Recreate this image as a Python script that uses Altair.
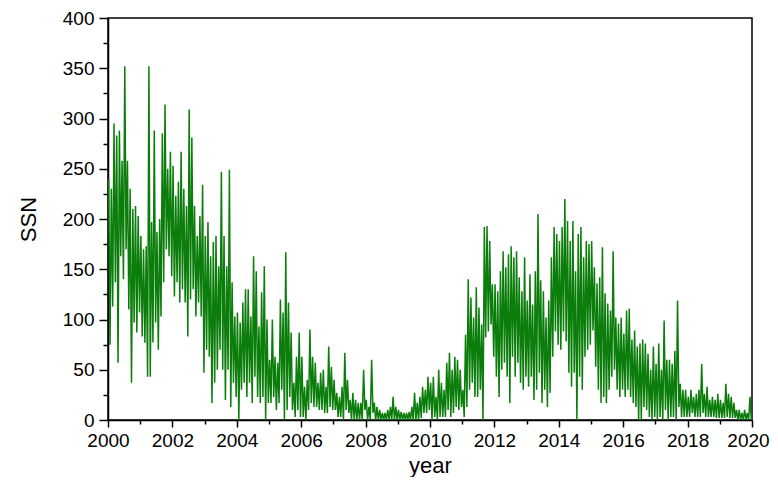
import altair as alt
import pandas as pd

# Monthly highest daily SSN (Jan..Dec per year)
YEARS = list(range(2000, 2020))
HI = [
    240, 230, 295, 283, 288, 258, 352, 258, 230, 210, 213, 203,  # 2000
    183, 170, 173, 352, 197, 288, 187, 200, 285, 314, 250, 267,  # 2001
    253, 223, 237, 267, 230, 213, 309, 281, 213, 183, 203, 234,  # 2002
    183, 197, 163, 177, 183, 153, 247, 183, 153, 249, 137, 103,  # 2003
    107, 97, 117, 130, 130, 103, 163, 148, 93, 127, 153, 100,    # 2004
    60, 100, 63, 57, 120, 107, 167, 117, 87, 37, 63, 87,         # 2005
    63, 33, 40, 90, 63, 57, 37, 47, 50, 33, 73, 53,              # 2006
    40, 27, 23, 33, 67, 40, 20, 27, 20, 17, 17, 50,              # 2007
    20, 13, 60, 17, 13, 10, 7, 7, 10, 13, 23, 13,                # 2008
    10, 8, 7, 7, 8, 13, 27, 17, 23, 33, 30, 43,                  # 2009
    37, 43, 23, 50, 37, 30, 57, 67, 50, 63, 60, 50,              # 2010
    30, 85, 140, 122, 102, 132, 112, 95, 192, 193, 178, 135,     # 2011
    135, 128, 148, 168, 152, 165, 173, 162, 168, 142, 128, 162,  # 2012
    119, 145, 115, 148, 205, 139, 128, 102, 119, 162, 192, 185,  # 2013
    178, 192, 220, 198, 178, 198, 148, 185, 192, 162, 178, 175,  # 2014
    178, 152, 136, 142, 172, 126, 116, 109, 168, 102, 96, 102,   # 2015
    86, 109, 111, 80, 89, 73, 76, 80, 76, 66, 50, 73,            # 2016
    56, 76, 50, 99, 60, 60, 56, 69, 119, 36, 30, 30,             # 2017
    23, 30, 23, 26, 30, 56, 26, 33, 20, 23, 20, 26,              # 2018
    20, 17, 36, 26, 23, 17, 10, 10, 7, 10, 7, 23,                # 2019
]
# Monthly lowest daily SSN
LO = [
    75, 113, 137, 57, 163, 140, 170, 110, 37, 97, 87, 107,       # 2000
    83, 77, 43, 43, 77, 97, 70, 103, 137, 170, 163, 143,         # 2001
    123, 137, 117, 130, 117, 83, 120, 130, 103, 117, 103, 47,    # 2002
    70, 63, 17, 37, 50, 70, 50, 20, 50, 13, 37, 23,              # 2003
    0, 30, 37, 23, 37, 17, 43, 23, 17, 23, 0, 17,                # 2004
    17, 23, 10, 17, 30, 0, 10, 23, 10, 3, 10, 3,                 # 2005
    3, 0, 10, 17, 13, 13, 10, 10, 7, 7, 13, 10,                  # 2006
    10, 3, 3, 0, 10, 7, 0, 0, 0, 0, 0, 10,                       # 2007
    0, 0, 7, 0, 0, 0, 0, 0, 0, 0, 0, 0,                          # 2008
    0, 0, 0, 0, 0, 0, 0, 0, 2, 7, 7, 10,                         # 2009
    0, 3, 0, 3, 3, 3, 10, 3, 7, 13, 10, 13,                      # 2010
    3, 13, 30, 37, 23, 23, 30, 0, 82, 88, 95, 63,                # 2011
    43, 23, 50, 57, 43, 17, 63, 43, 57, 37, 30, 43,              # 2012
    33, 43, 20, 30, 47, 17, 30, 13, 27, 63, 88, 75,              # 2013
    70, 88, 78, 47, 33, 47, 0, 43, 30, 63, 70, 75,               # 2014
    89, 53, 30, 17, 23, 17, 30, 43, 50, 30, 23, 30,              # 2015
    23, 30, 23, 17, 13, 0, 0, 13, 10, 3, 0, 3,                   # 2016
    0, 3, 0, 10, 0, 3, 3, 0, 13, 3, 3, 3,                        # 2017
    3, 7, 3, 3, 3, 7, 3, 3, 3, 3, 2, 2,                          # 2018
    2, 2, 3, 2, 2, 2, 0, 0, 0, 0, 0, 0,                          # 2019
]
X_TICKS = list(range(2000, 2021, 2))
X_MINOR = list(range(2001, 2020, 2))
Y_TICKS = list(range(0, 401, 50))
Y_MINOR = list(range(25, 400, 50))

rows = []
for i, (h, l) in enumerate(zip(HI, LO)):
    yr = YEARS[i // 12]
    m = i % 12
    rows.append({"t": yr + (m + 0.25) / 12, "v": h})
    rows.append({"t": yr + (m + 0.75) / 12, "v": l})
df = pd.DataFrame(rows)

FONT = "Liberation Sans"
xscale = alt.Scale(domain=[2000, 2020], nice=False, zero=False)
yscale = alt.Scale(domain=[0, 400], nice=False)

line = alt.Chart(df).mark_line(color="#0b7d0b", strokeWidth=1.5, clip=True).encode(
    x=alt.X("t:Q", scale=xscale, axis=alt.Axis(
        values=X_TICKS, format="d", title="year", grid=False,
        tickSize=7, tickWidth=1.5, tickColor="black",
        domainColor="black", domainWidth=1.5,
        labelFont=FONT, labelFontSize=19, labelColor="black",
        labelFlush=False, labelOverlap=False, labelPadding=4,
        labelOffset={"condition": {"test": "datum.value == 2020", "value": -4}, "value": 0},
        titleFont=FONT, titleFontSize=22, titleFontWeight="normal",
        titleColor="black", titlePadding=5, orient="bottom")),
    y=alt.Y("v:Q", scale=yscale, axis=alt.Axis(
        values=Y_TICKS, title="SSN", grid=False,
        tickSize=9, tickWidth=1.5, tickColor="black",
        domainColor="black", domainWidth=1.5,
        labelFont=FONT, labelFontSize=19, labelColor="black",
        labelPadding=5, labelOverlap=False,
        titleFont=FONT, titleFontSize=22, titleFontWeight="normal",
        titleColor="black", titlePadding=22, orient="left")),
)

minor = alt.Chart(pd.DataFrame({"t": [2000.0], "v": [0.0]})).mark_point(opacity=0).encode(
    x=alt.X("t:Q", scale=xscale, axis=alt.Axis(
        values=X_MINOR, labels=False, title=None, grid=False, domain=False,
        tickSize=4, tickWidth=1.5, tickColor="black", orient="bottom")),
    y=alt.Y("v:Q", scale=yscale, axis=alt.Axis(
        values=Y_MINOR, labels=False, title=None, grid=False, domain=False,
        tickSize=5, tickWidth=1.5, tickColor="black", orient="left")),
)

chart = alt.layer(line, minor).resolve_axis(x="independent", y="independent").properties(
    width=644, height=402,
    autosize=alt.AutoSizeParams(type="none"),
    padding={"left": 100, "top": 10, "right": 18, "bottom": 57},
).configure_view(stroke="black", strokeWidth=1.5)

chart.save("out.html", embed_options={"renderer": "svg", "actions": False})
